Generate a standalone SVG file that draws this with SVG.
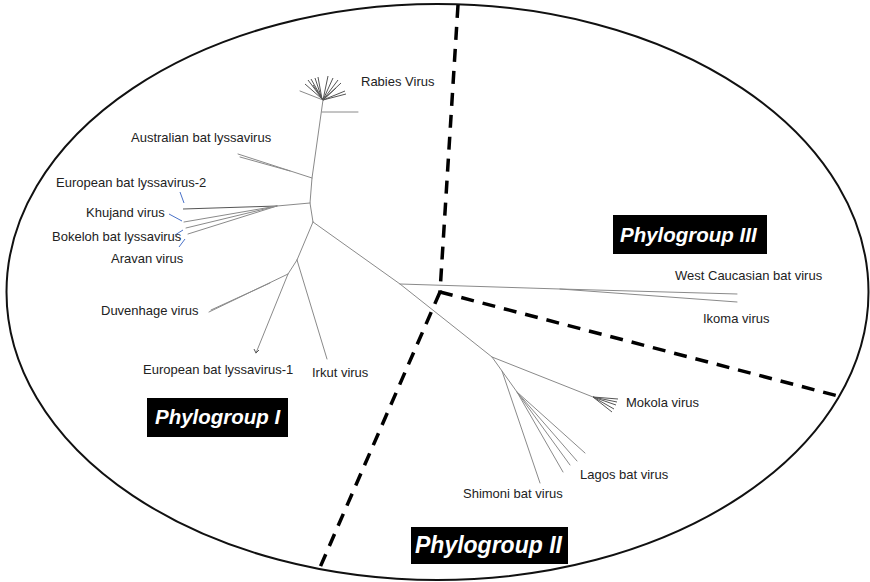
<svg xmlns="http://www.w3.org/2000/svg" width="870" height="582" viewBox="0 0 870 582">
<style>
.br{stroke:#8a8a8a;stroke-width:1;fill:none;stroke-linecap:round}
.dk{stroke:#555;stroke-width:1;fill:none}
.lead{stroke:#4a72c8;stroke-width:1;fill:none}
.dash{stroke:#000;stroke-width:3.5;fill:none;stroke-dasharray:13 9}
.lbl{font-family:"Liberation Sans",Arial,sans-serif;font-size:13px;fill:#222}
.pg{font-family:"Liberation Sans",Arial,sans-serif;font-weight:bold;font-style:italic;fill:#fff}
</style>
<rect width="870" height="582" fill="#fff"/>
<ellipse id="boundary" cx="437.5" cy="292" rx="431" ry="288" fill="none" stroke="#111" stroke-width="2"/>
<g id="dividers">
<path class="dash" d="M458,5 L440,292"/>
<path class="dash" d="M440,292 L838,396"/>
<path class="dash" d="M440,292 L318,572"/>
</g>
<g id="connectors">
<!-- main stem -->
<path class="br" d="M323,100 L312,178 L310,203 L313,222"/>
<path class="br" d="M323,100 L300,91"/>
<path class="br" d="M322,112 L358,112"/>
<!-- Australian -->
<path class="br" d="M312,178 L238,154"/>
<path class="br" d="M290,171 L240,157"/>
<!-- EBLV-2 group -->
<path class="br" d="M310,203 L277,206"/>
<path class="dk" d="M277,206 L183,209"/>
<path class="br" d="M277,206 L184,222"/>
<path class="br" d="M277,206 L186,228"/>
<path class="br" d="M277,206 L188,234"/>
<!-- lower group I -->
<path class="br" d="M313,222 L297,260"/>
<path class="br" d="M297,260 L327,359"/>
<path class="br" d="M297,260 L288,274"/>
<path class="br" d="M288,274 L209,312"/>
<path class="br" d="M270,283 L211,310"/>
<path class="br" d="M288,274 L256,353"/>
<path class="dk" d="M256,353 L254,349 M256,353 L259,350"/>
<!-- long branch to group II -->
<path class="br" d="M313,222 L400,284 L492,357"/>
<!-- group III -->
<path class="br" d="M400,284 L560,289 L737,294"/>
<path class="br" d="M560,289 L737,302"/>
<!-- group II -->
<path class="br" d="M492,357 L593,397"/>
<path class="dk" d="M593,397 L618,399 M593,397 L617,402 M593,397 L616,405 M593,397 L614,409 M593,397 L612,412"/>
<path class="br" d="M492,357 L502,371 L540,483"/>
<path class="br" d="M502,371 L517,392"/>
<path class="br" d="M517,392 L585,453"/>
<path class="br" d="M517,392 L577,461"/>
<path class="br" d="M517,392 L570,465"/>
<path class="br" d="M517,392 L563,472"/>
<!-- rabies fan -->
<path class="dk" d="M323,100 L308,80 M323,100 L311,79 M322,99 L315,78 M322,99 L318,77 M321,98 L305,84 M323,100 L313,85"/>
<path class="dk" d="M323,100 L328,76 M323,100 L333,78 M323,100 L338,80 M323,100 L341,83 M323,100 L345,91 M323,100 L346,94 M324,99 L336,88"/>
<!-- leader lines -->
<path class="lead" d="M180,192 L184,203"/>
<path class="lead" d="M169,214 L182,221"/>
<path class="lead" d="M175,235 L183,230"/>
<path class="lead" d="M179,247 L185,239"/>
</g>
<g id="labels">
<text class="lbl" x="361" y="86">Rabies Virus</text>
<text class="lbl" x="131" y="142">Australian bat lyssavirus</text>
<text class="lbl" x="56" y="187">European bat lyssavirus-2</text>
<text class="lbl" x="86" y="217">Khujand virus</text>
<text class="lbl" x="52" y="241">Bokeloh bat lyssavirus</text>
<text class="lbl" x="111" y="263">Aravan virus</text>
<text class="lbl" x="101" y="315">Duvenhage virus</text>
<text class="lbl" x="143" y="374">European bat lyssavirus-1</text>
<text class="lbl" x="312" y="377">Irkut virus</text>
<text class="lbl" x="675" y="280">West Caucasian bat virus</text>
<text class="lbl" x="703" y="323">Ikoma virus</text>
<text class="lbl" x="626" y="407">Mokola virus</text>
<text class="lbl" x="580" y="479">Lagos bat virus</text>
<text class="lbl" x="463" y="498">Shimoni bat virus</text>
</g>
<g id="pg1">
<rect x="147" y="398" width="141" height="39" fill="#000"/>
<text class="pg" x="155" y="424" font-size="20.5">Phylogroup I</text>
</g>
<g id="pg2">
<rect x="411" y="527" width="157" height="37" fill="#000"/>
<text class="pg" x="415" y="553" font-size="23">Phylogroup II</text>
</g>
<g id="pg3">
<rect x="613" y="215" width="154" height="39" fill="#000"/>
<text class="pg" x="620" y="242" font-size="20.5">Phylogroup III</text>
</g>
</svg>
